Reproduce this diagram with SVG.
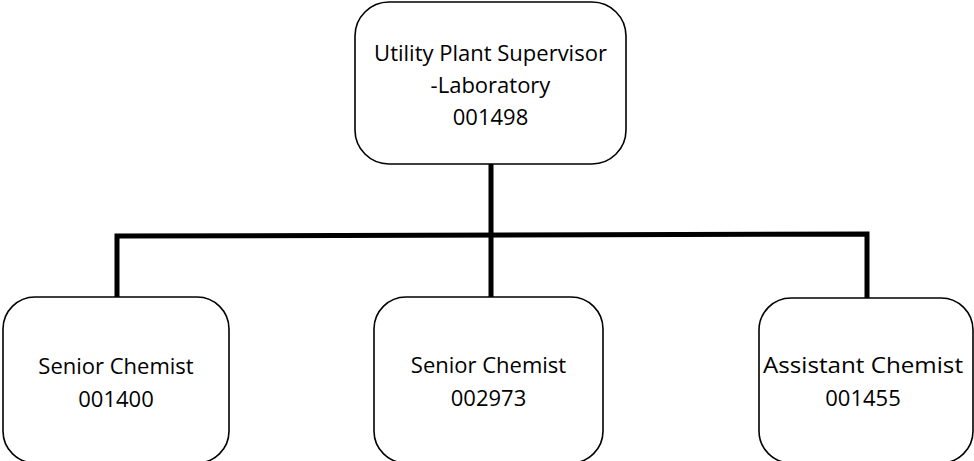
<svg xmlns="http://www.w3.org/2000/svg" width="974" height="461" viewBox="0 0 974 461">
<style>
.box{fill:#fff;stroke:#000;stroke-width:1.6}
.conn{fill:none;stroke:#000;stroke-width:5}
text{font-family:"Open Sans","Liberation Sans",sans-serif;font-size:22px;fill:#000;text-anchor:middle}
</style>
<rect width="974" height="461" fill="#fff"/>
<g id="connectors">
<line class="conn" x1="491" y1="164" x2="491" y2="297"/>
<polyline class="conn" points="117,297 117,236 867,234 867,298"/>
</g>
<g id="node-supervisor">
<rect class="box" x="355" y="2" width="271" height="162" rx="34"/>
<text x="490.5" y="61">Utility Plant Supervisor</text>
<text x="490.5" y="93">-Laboratory</text>
<text x="490.5" y="125">001498</text>
</g>
<g id="node-senior1">
<rect class="box" x="3" y="297" width="226" height="166" rx="32"/>
<text x="116" y="374">Senior Chemist</text>
<text x="116" y="407">001400</text>
</g>
<g id="node-senior2">
<rect class="box" x="374" y="297" width="229" height="166" rx="32"/>
<text x="488.5" y="373">Senior Chemist</text>
<text x="488.5" y="406">002973</text>
</g>
<g id="node-assistant">
<rect class="box" x="759" y="298" width="214" height="165" rx="32"/>
<text x="863" y="373" textLength="200" lengthAdjust="spacingAndGlyphs">Assistant Chemist</text>
<text x="863" y="406">001455</text>
</g>
</svg>
